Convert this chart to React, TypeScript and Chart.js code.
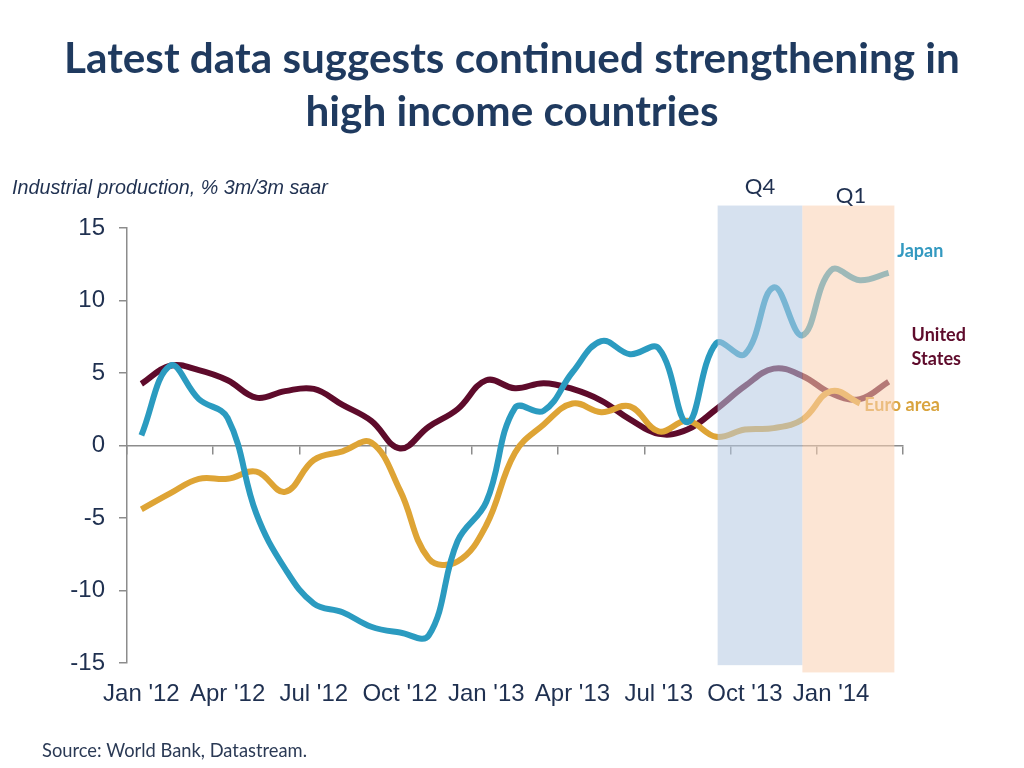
import { useEffect, useRef } from 'react';
import { Chart, registerables } from 'chart.js';

Chart.register(...registerables);

const months = [
  "Jan '12", "Feb '12", "Mar '12", "Apr '12", "May '12", "Jun '12", "Jul '12", "Aug '12", "Sep '12",
  "Oct '12", "Nov '12", "Dec '12", "Jan '13", "Feb '13", "Mar '13", "Apr '13", "May '13", "Jun '13",
  "Jul '13", "Aug '13", "Sep '13", "Oct '13", "Nov '13", "Dec '13", "Jan '14", "Feb '14", "Mar '14",
];

const japan = [0.7, 5.5, 3.2, 1.9, -4.7, -8.5, -10.9, -11.5, -12.5, -12.9, -13.1, -6.6, -3.9, 2.6, 2.4, 5.05, 7.2, 6.3, 6.7, 1.6, 7.05, 6.3, 10.9, 7.6, 12.1, 11.4, 11.9];
const unitedStates = [4.25, 5.5, 5.2, 4.5, 3.3, 3.75, 3.9, 2.8, 1.7, -0.2, 1.3, 2.5, 4.5, 3.95, 4.3, 3.9, 3.1, 1.8, 0.8, 1.1, 2.5, 4.1, 5.3, 4.8, 3.6, 3.2, 4.4];
const euroArea = [-4.4, -3.3, -2.3, -2.3, -1.8, -3.2, -1.0, -0.4, 0.2, -3.1, -7.8, -8.0, -5.5, -0.5, 1.45, 2.9, 2.3, 2.7, 0.97, 1.7, 0.6, 1.1, 1.2, 1.8, 3.75, 2.9, null];

const yTicks = [15, 10, 5, 0, -5, -10, -15];

const TITLE_1 = 'Latest data suggests continued strengthening in';
const TITLE_2 = 'high income countries';
const Y_LABEL = 'Industrial production, % 3m/3m saar';
const SOURCE = 'Source: World Bank, Datastream.';

const C_JAPAN = '#2B9BC0';
const C_US = '#5E0B2B';
const C_EURO = '#DEA435';
const C_TEXT = '#1F3050';

function fitFont(ctx: CanvasRenderingContext2D, text: string, style: string, weight: string, family: string, target: number, base: number) {
  ctx.font = `${style} ${weight} ${base}px ${family}`;
  const w = ctx.measureText(text).width;
  const size = (base * target) / w;
  return `${style} ${weight} ${size.toFixed(2)}px ${family}`;
}

const overlayPlugin = {
  id: 'overlay',
  afterDatasetsDraw(chart: any) {
    const ctx: CanvasRenderingContext2D = chart.ctx;
    const x = chart.scales.x;
    const y = chart.scales.y;
    ctx.save();
    // series labels
    ctx.textBaseline = 'alphabetic';
    ctx.textAlign = 'left';
    ctx.font = 'bold 18px Lato';
    ctx.fillStyle = '#3399C0';
    ctx.fillText('Japan', x.getPixelForValue(26.3), y.getPixelForValue(13.0));
    ctx.fillStyle = C_US;
    ctx.fillText('United', x.getPixelForValue(26.8), y.getPixelForValue(7.2));
    ctx.fillText('States', x.getPixelForValue(26.8), y.getPixelForValue(5.55));
    ctx.fillStyle = '#D9A43E';
    ctx.fillText('Euro area', x.getPixelForValue(25.15), y.getPixelForValue(2.35));

    // shaded quarters
    const shade = (x0: number, x1: number, y0: number, y1: number, color: string) => {
      const px0 = x.getPixelForValue(x0);
      const px1 = x.getPixelForValue(x1);
      const py0 = y.getPixelForValue(y0);
      const py1 = y.getPixelForValue(y1);
      ctx.fillStyle = color;
      ctx.fillRect(px0, py0, px1 - px0, py1 - py0);
    };
    shade(20.05, 23.0, 16.55, -15.15, 'rgba(181,202,226,0.56)');
    shade(23.0, 26.2, 16.55, -15.65, 'rgba(250,208,179,0.56)');
    ctx.restore();
  },
  afterDraw(chart: any) {
    const ctx: CanvasRenderingContext2D = chart.ctx;
    ctx.save();
    ctx.textBaseline = 'alphabetic';
    // title
    ctx.fillStyle = '#1F3A5F';
    ctx.textAlign = 'center';
    ctx.font = fitFont(ctx, TITLE_1, 'normal', 'bold', 'Lato', 896, 40);
    ctx.fillText(TITLE_1, 512, 73);
    ctx.fillText(TITLE_2, 512, 126);
    // y-axis label
    ctx.textAlign = 'left';
    ctx.fillStyle = C_TEXT;
    ctx.font = fitFont(ctx, Y_LABEL, 'italic', 'normal', '"Liberation Sans"', 316, 18);
    ctx.fillText(Y_LABEL, 12, 194);
    // quarter labels
    ctx.textAlign = 'center';
    ctx.font = 'normal 22px Lato';
    ctx.fillText('Q4', 760, 194);
    ctx.fillText('Q1', 851, 203);
    // source
    ctx.textAlign = 'left';
    ctx.fillStyle = '#2B3A55';
    ctx.font = fitFont(ctx, SOURCE, 'normal', 'normal', 'Lato', 265, 16);
    ctx.fillText(SOURCE, 42, 757);
    ctx.restore();
  },
};

export default function App() {
  const ref = useRef<HTMLCanvasElement | null>(null);

  useEffect(() => {
    if (!ref.current) return;
    const tickFont = { family: '"Liberation Sans", Arial, sans-serif', size: 24 };
    const chart = new Chart(ref.current, {
      type: 'line',
      data: {
        labels: months,
        datasets: [
          { label: 'Japan', data: japan, borderColor: C_JAPAN, borderWidth: 6, pointRadius: 0, tension: 0.4, fill: false },
          { label: 'Euro area', data: euroArea, borderColor: C_EURO, borderWidth: 6, pointRadius: 0, tension: 0.4, fill: false },
          { label: 'United States', data: unitedStates, borderColor: C_US, borderWidth: 6, pointRadius: 0, tension: 0.4, fill: false },
        ],
      },
      options: {
        responsive: true,
        maintainAspectRatio: false,
        animation: false,
        layout: { padding: { top: 228, left: 0, right: 121, bottom: 0 } },
        plugins: {
          legend: { display: false },
          title: { display: false },
          tooltip: { enabled: false },
        },
        scales: {
          x: {
            type: 'category',
            offset: true,
            grid: { display: false, drawTicks: false },
            border: { display: false },
            ticks: {
              autoSkip: false,
              maxRotation: 0,
              minRotation: 0,
              padding: 17,
              color: C_TEXT,
              font: tickFont,
              callback: (_v: any, i: number) => (i % 3 === 0 ? months[i] : ''),
            },
            afterFit: (s: any) => { s.height = 105; },
          },
          x2: {
            type: 'category',
            position: { y: 0 },
            offset: true,
            grid: {
              offset: true,
              drawOnChartArea: false,
              drawTicks: true,
              tickLength: 8,
              lineWidth: 1.5,
              color: (c: any) => (c.type !== 'tick' || c.index % 3 === 0 ? '#8C8C8C' : 'rgba(0,0,0,0)'),
            },
            border: { display: true, color: '#8C8C8C', width: 1.5 },
            ticks: { display: false },
          },
          y: {
            type: 'linear',
            min: -15,
            max: 15,
            afterBuildTicks: (s: any) => { s.ticks = yTicks.map((v) => ({ value: v })); },
            grid: { drawOnChartArea: false, drawTicks: true, tickLength: 8, color: '#8C8C8C', lineWidth: 1.5 },
            border: { display: true, color: '#8C8C8C', width: 1.5 },
            ticks: { padding: 14, color: C_TEXT, font: tickFont },
            afterFit: (s: any) => { s.width = 127; },
          },
        },
      },
      plugins: [overlayPlugin],
    });
    return () => chart.destroy();
  }, []);

  return (
    <div style={{ position: 'fixed', left: 0, top: 0, width: 1024, height: 768, background: '#fff' }}>
      <canvas ref={ref} />
    </div>
  );
}
